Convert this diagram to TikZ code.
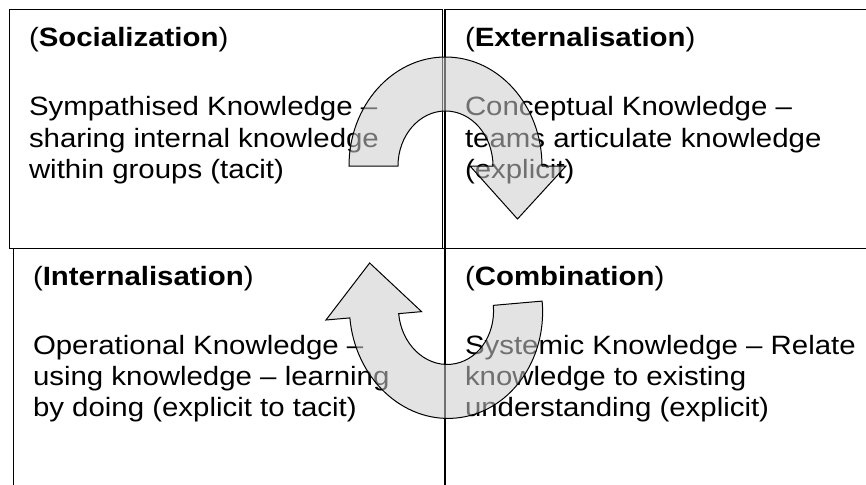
\documentclass[tikz,border=0pt]{standalone}
\usepackage{fontspec}
\setmainfont{Liberation Sans}[FakeStretch=1.11]
\begin{document}
\begin{tikzpicture}[x=1pt,y=1pt,
  cell/.style={draw=black, line width=1.2pt},
  lbl/.style={anchor=base west, inner sep=0pt, outer sep=0pt,
              font=\fontsize{26.5}{31}\selectfont},
  turn/.style={draw=black, line width=1pt, fill=black!20,
               fill opacity=0.55, line join=miter},
  pics/uturn/.style={code={
    \draw[turn] (-96.5,0)
      arc[start angle=180, end angle=0, x radius=96.5, y radius=109]
      -- (120.5,0) -- (72,-53) -- (24.5,0) -- (47.5,0)
      arc[start angle=0, end angle=180, x radius=47.5, y radius=55]
      -- cycle;
  }}
]
\useasboundingbox (0,0) rectangle (866,-484);

% grid of the four quadrants
\coordinate (tl1) at (9.3,-9.3);
\coordinate (tl2) at (442.3,-248.8);
\coordinate (tr1) at (445,-9.3);
\coordinate (tr2) at (880,-248.8);
\coordinate (bl1) at (13.3,-248.8);
\coordinate (bl2) at (13.3,-500);
\coordinate (bm1) at (445,-248.8);
\coordinate (bm2) at (445,-500);
\draw[cell] (tl1) rectangle (tl2);
\draw[cell] (tr1) rectangle (tr2);
\draw[cell] (bl1) -- (tr2);
\draw[cell] (bl1) -- (bl2);
\draw[cell] (bm1) -- (bm2);

% Socialization
\node[lbl] (soc)  at (29,-47)  {(\textbf{Socialization})};
\node[lbl] (soc1) at (29,-116) {Sympathised Knowledge –};
\node[lbl] (soc2) at (29,-147) {sharing internal knowledge};
\node[lbl] (soc3) at (29,-178) {within groups (tacit)};

% Externalisation
\node[lbl] (ext)  at (465,-47)  {(\textbf{Externalisation})};
\node[lbl] (ext1) at (465,-116) {Conceptual Knowledge –};
\node[lbl] (ext2) at (465,-147) {teams articulate knowledge};
\node[lbl] (ext3) at (465,-178) {(explicit)};

% Internalisation
\node[lbl] (int)  at (33,-285)  {(\textbf{Internalisation})};
\node[lbl] (int1) at (33,-354) {Operational Knowledge –};
\node[lbl] (int2) at (33,-385) {using knowledge – learning};
\node[lbl] (int3) at (33,-416) {by doing (explicit to tacit)};

% Combination
\node[lbl] (com)  at (465,-285)  {(\textbf{Combination})};
\node[lbl] (com1) at (465,-354) {Systemic Knowledge – Relate};
\node[lbl] (com2) at (465,-385) {knowledge to existing};
\node[lbl] (com3) at (465,-416) {understanding (explicit)};

% the two turning arrows of the cycle
\pic at (445.5,-166) {uturn};
\pic[rotate=185] at (446,-309.5) {uturn};
\end{tikzpicture}
\end{document}
